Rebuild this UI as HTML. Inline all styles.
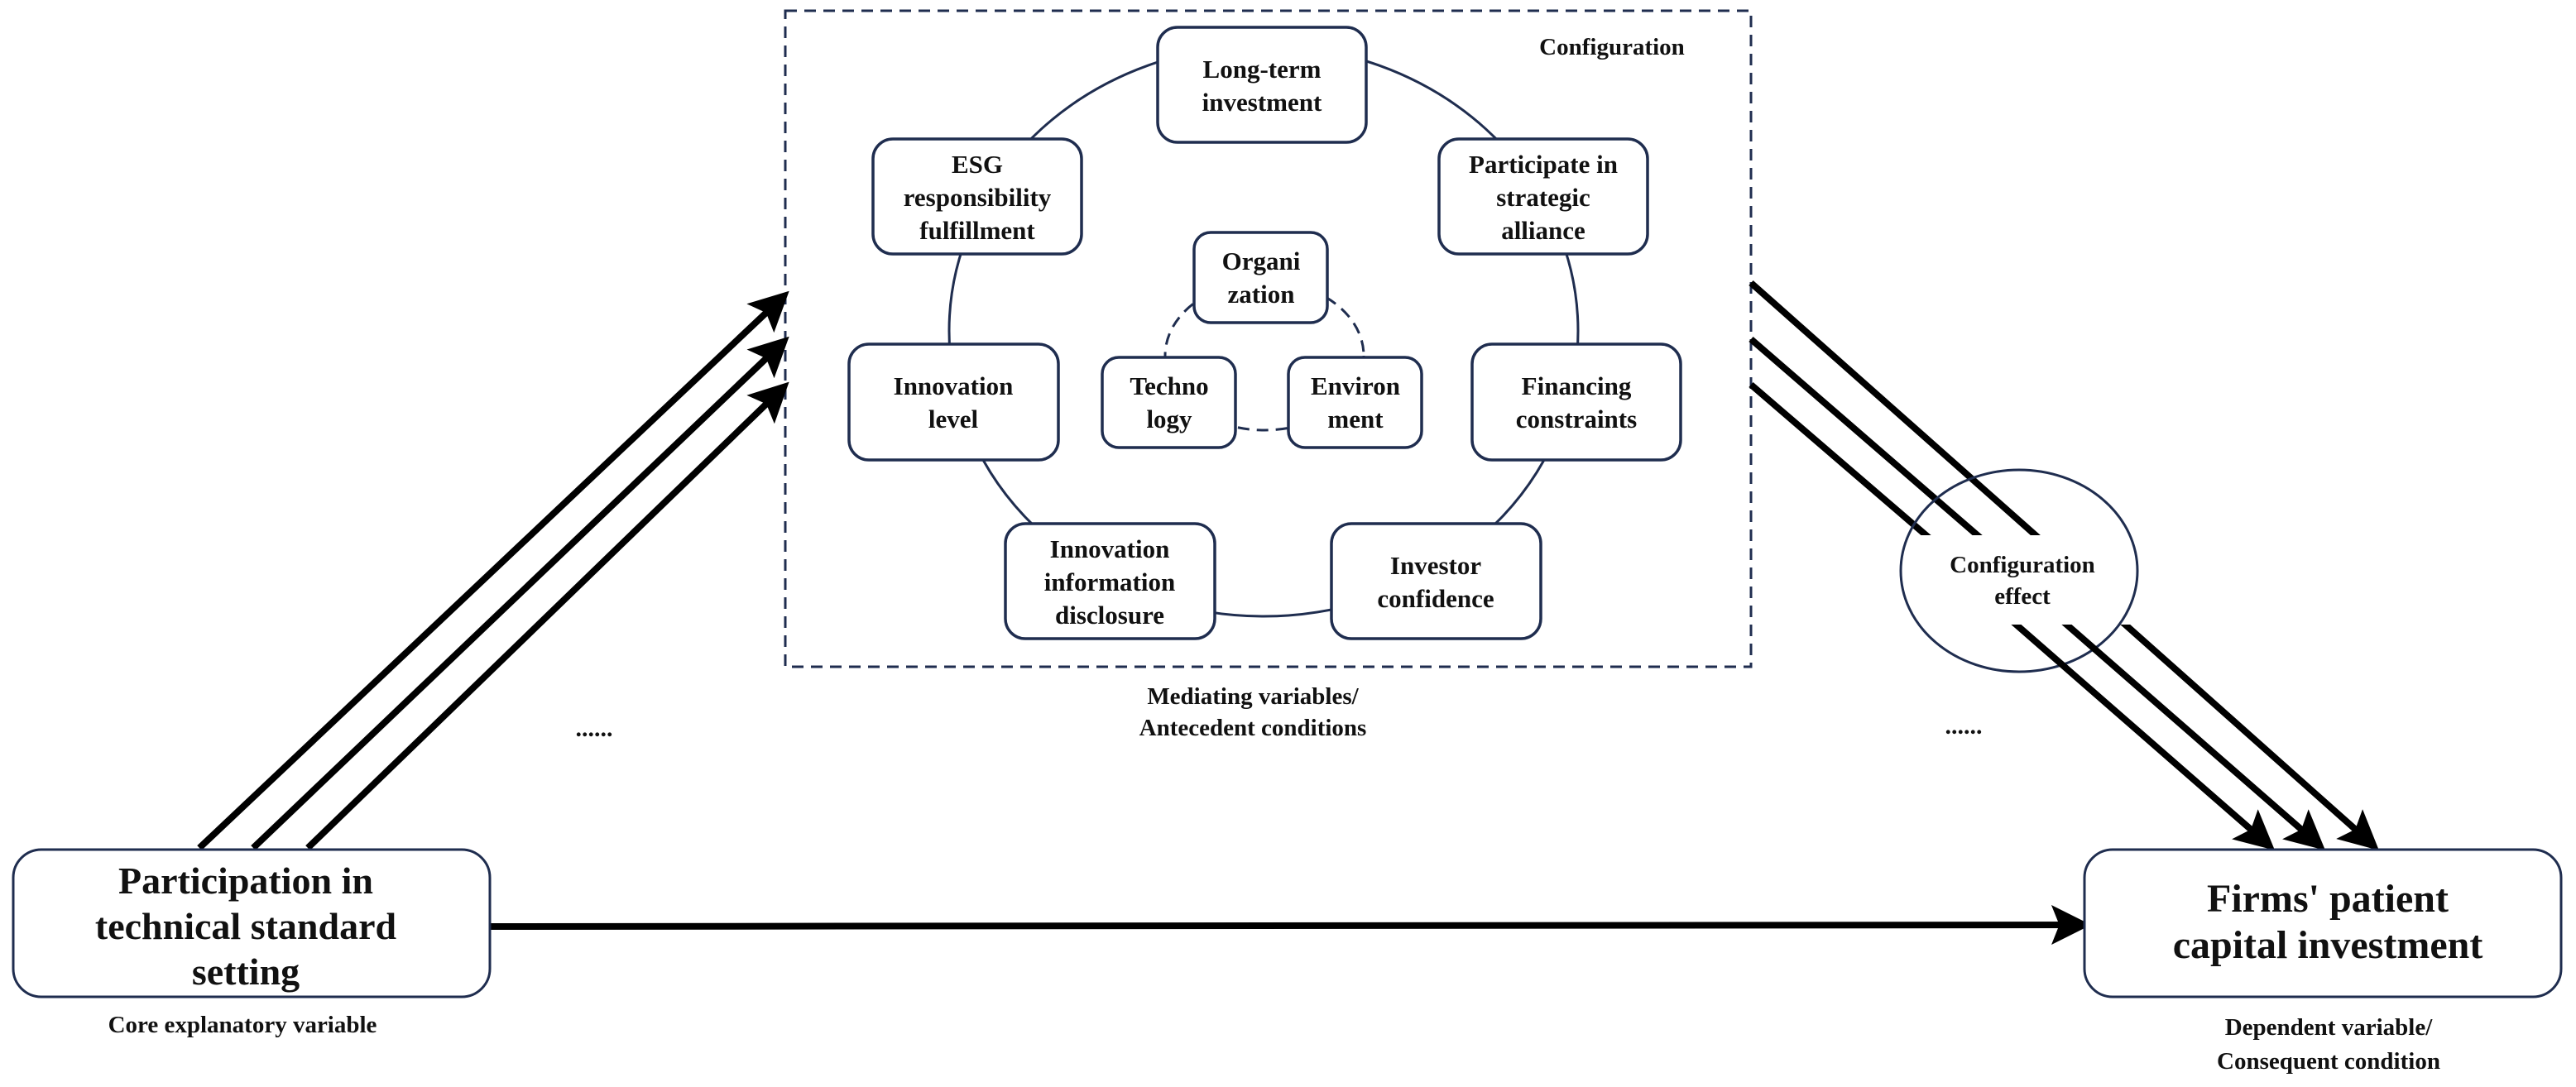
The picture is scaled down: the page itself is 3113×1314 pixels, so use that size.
<!DOCTYPE html>
<html><head><meta charset="utf-8"><style>
html,body{margin:0;padding:0;background:#fff;}
svg{display:block;}
text{font-family:"Liberation Serif",serif;font-weight:bold;fill:#111;text-anchor:middle;}
</style></head><body>
<svg width="3113" height="1314" viewBox="0 0 3113 1314" xmlns="http://www.w3.org/2000/svg">
<defs>
<marker id="ah" markerWidth="6" markerHeight="6" refX="4.5" refY="3" orient="auto" markerUnits="strokeWidth">
<path d="M0,0 L6,3 L0,6 L1.2,3 z" fill="#000"/>
</marker>
<clipPath id="c1"><rect x="0" y="0" width="3113" height="647"/></clipPath>
<clipPath id="c2"><rect x="0" y="755" width="3113" height="600"/></clipPath>
</defs>

<!-- dashed configuration box -->
<rect x="949" y="13" width="1167" height="793" fill="none" stroke="#1f2d4f" stroke-width="3" stroke-dasharray="14,9"/>
<text x="1948" y="66" font-size="29">Configuration</text>

<!-- big ring -->
<ellipse cx="1527" cy="400" rx="380" ry="345" fill="none" stroke="#1f2d4f" stroke-width="3"/>
<!-- inner dashed ring -->
<ellipse cx="1528" cy="430" rx="120" ry="90" fill="none" stroke="#1f2d4f" stroke-width="3" stroke-dasharray="14,9"/>

<g fill="#fff" stroke="#1f2d4f" stroke-width="3.5">
<rect x="1399" y="33" width="252" height="139" rx="24"/>
<rect x="1055" y="168" width="252" height="139" rx="24"/>
<rect x="1739" y="168" width="252" height="139" rx="24"/>
<rect x="1026" y="416" width="253" height="140" rx="24"/>
<rect x="1779" y="416" width="252" height="140" rx="24"/>
<rect x="1215" y="633" width="253" height="139" rx="24"/>
<rect x="1609" y="633" width="253" height="139" rx="24"/>
<rect x="1443" y="281" width="161" height="109" rx="20"/>
<rect x="1332" y="432" width="161" height="109" rx="20"/>
<rect x="1557" y="432" width="161" height="109" rx="20"/>
</g>

<g font-size="31">
<text x="1525" y="94">Long-term</text><text x="1525" y="134">investment</text>
<text x="1181" y="209">ESG</text><text x="1181" y="249">responsibility</text><text x="1181" y="289">fulfillment</text>
<text x="1865" y="209">Participate in</text><text x="1865" y="249">strategic</text><text x="1865" y="289">alliance</text>
<text x="1152" y="477">Innovation</text><text x="1152" y="517">level</text>
<text x="1905" y="477">Financing</text><text x="1905" y="517">constraints</text>
<text x="1341" y="674">Innovation</text><text x="1341" y="714">information</text><text x="1341" y="754">disclosure</text>
<text x="1735" y="694">Investor</text><text x="1735" y="734">confidence</text>
<text x="1524" y="326">Organi</text><text x="1524" y="366">zation</text>
<text x="1413" y="477">Techno</text><text x="1413" y="517">logy</text>
<text x="1638" y="477">Environ</text><text x="1638" y="517">ment</text>
</g>

<text x="1514" y="851" font-size="29">Mediating variables/</text>
<text x="1514" y="889" font-size="29">Antecedent conditions</text>

<!-- left arrows -->
<g stroke="#000" stroke-width="8" marker-end="url(#ah)">
<line x1="241" y1="1025" x2="945" y2="360"/>
<line x1="306" y1="1025" x2="945" y2="415"/>
<line x1="372" y1="1025" x2="945" y2="470"/>
<line x1="592" y1="1120" x2="2515" y2="1118"/>
</g>

<!-- right side lines into circle -->
<g stroke="#000" stroke-width="8" clip-path="url(#c1)">
<line x1="2116" y1="342" x2="2470" y2="656"/>
<line x1="2116" y1="410" x2="2400" y2="656"/>
<line x1="2116" y1="465" x2="2338" y2="656"/>
</g>
<ellipse cx="2440" cy="690" rx="143" ry="122" fill="none" stroke="#1f2d4f" stroke-width="3"/>
<text x="2444" y="692" font-size="29">Configuration</text>
<text x="2444" y="730" font-size="29">effect</text>
<g stroke="#000" stroke-width="8" clip-path="url(#c2)" marker-end="url(#ah)">
<line x1="2425" y1="745" x2="2740" y2="1020"/>
<line x1="2486" y1="745" x2="2801" y2="1020"/>
<line x1="2557" y1="745" x2="2866" y2="1020"/>
</g>

<text x="718" y="890" font-size="30">......</text>
<text x="2373" y="887" font-size="30">......</text>

<!-- left box -->
<rect x="16" y="1027" width="576" height="178" rx="34" fill="#fff" stroke="#1f2d4f" stroke-width="3"/>
<text x="297" y="1080" font-size="46">Participation in</text>
<text x="297" y="1135" font-size="46">technical standard</text>
<text x="297" y="1190" font-size="46">setting</text>
<text x="293" y="1248" font-size="29">Core explanatory variable</text>

<!-- right box -->
<rect x="2519" y="1027" width="576" height="178" rx="34" fill="#fff" stroke="#1f2d4f" stroke-width="3"/>
<text x="2813" y="1102" font-size="48">Firms' patient</text>
<text x="2813" y="1158" font-size="48">capital investment</text>
<text x="2814" y="1251" font-size="29">Dependent variable/</text>
<text x="2814" y="1292" font-size="29">Consequent condition</text>
</svg>
</body></html>
